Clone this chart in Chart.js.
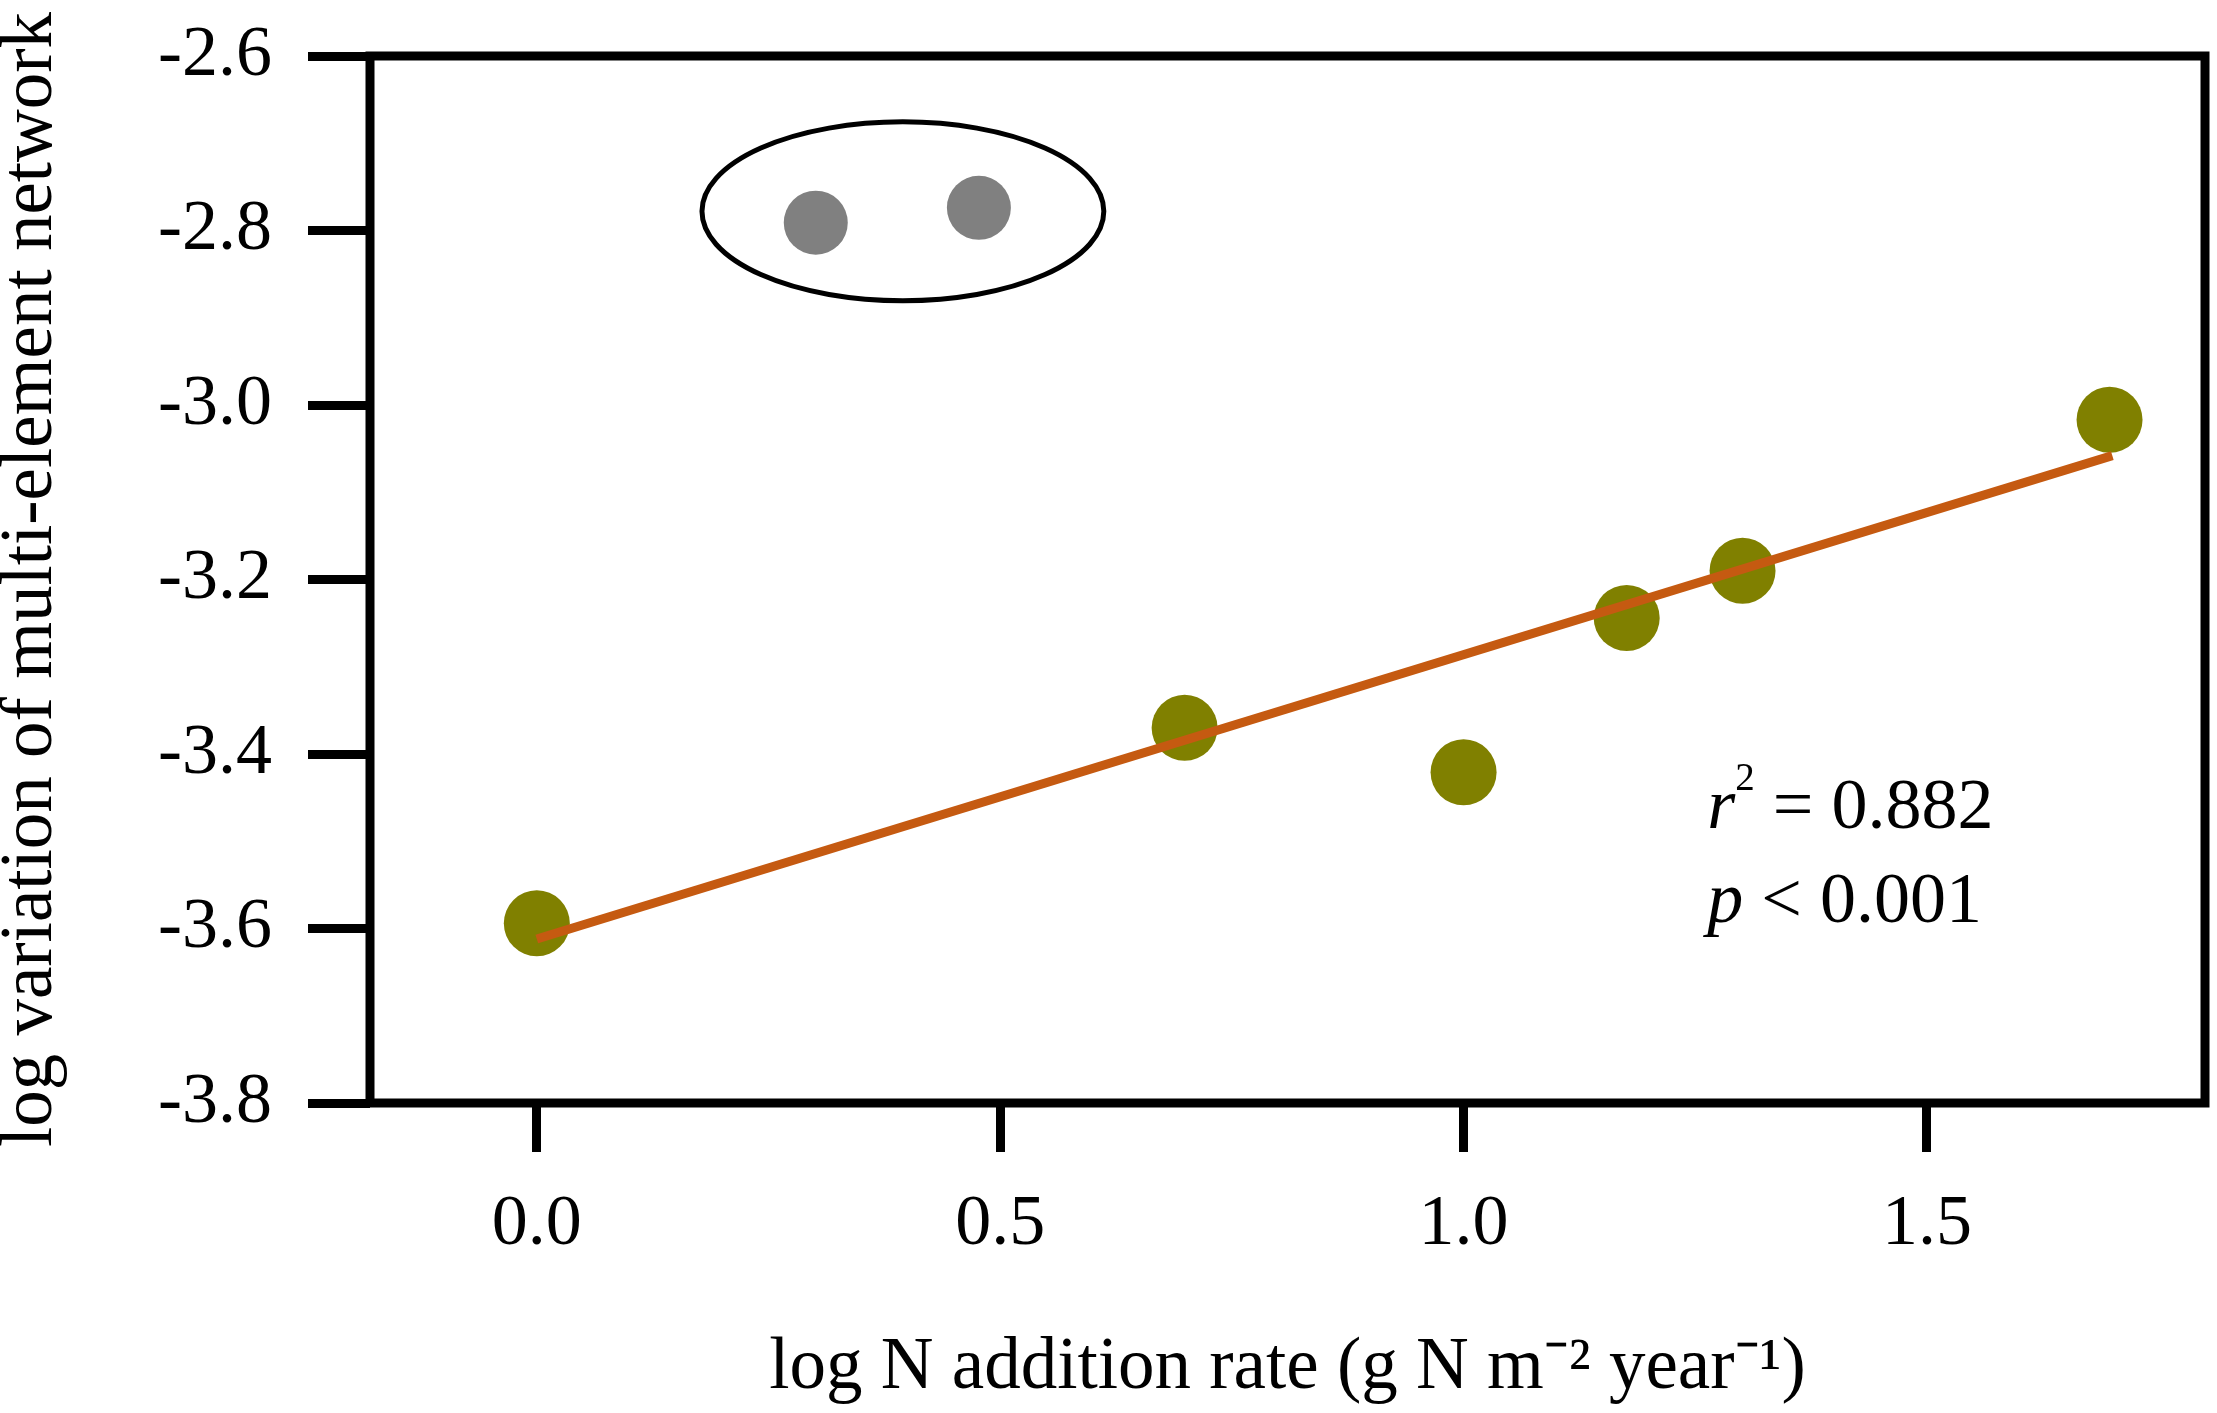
<!DOCTYPE html>
<html>
<head>
<meta charset="utf-8">
<script src="https://cdn.jsdelivr.net/npm/chart.js@4.4.0/dist/chart.umd.min.js"></script>
<style>
  html, body { margin: 0; padding: 0; background: #ffffff; }
  #wrap { width: 2217px; height: 1413px; position: relative; }
</style>
</head>
<body>
<div id="wrap"><canvas id="c"></canvas></div>
<script>
// ---- data ----
const greenX = [0.0, 0.699, 1.0, 1.176, 1.301, 1.697];
const greenY = [-3.594, -3.370, -3.421, -3.244, -3.190, -3.017];
const greyX = [0.301, 0.477];
const greyY = [-2.791, -2.774];
const fitX = [0.0, 1.700];
const fitY = [-3.612, -3.058];
const xTicks = [0.0, 0.5, 1.0, 1.5];
const yTicks = [-3.8, -3.6, -3.4, -3.2, -3.0, -2.8, -2.6];
const xTickLabels = ['0.0', '0.5', '1.0', '1.5'];
const yTickLabels = ['-3.8', '-3.6', '-3.4', '-3.2', '-3.0', '-2.8', '-2.6'];
const xTitle = 'log N addition rate (g N m\u207B\u00B2 year\u207B\u00B9)';
const yTitle = 'log variation of multi-element network';
const statLines = [
  [{t: 'r', it: true}, {t: '2', sup: true}, {t: ' = 0.882'}],
  [{t: 'p', it: true}, {t: ' < 0.001'}]
];

const FONT = '"Liberation Serif", "Times New Roman", serif';

const toPts = (xs, ys) => xs.map((x, i) => ({x: x, y: ys[i]}));

// ellipse annotation (data coordinates) and stats text placement
const ellipseAnno = {cx: 0.395, cy: -2.778, rx: 0.2168, ry: 0.1025, width: 5};
const statAnno = {x: 1.263, y: [-3.485, -3.593], size: 72};

const framePlugin = {
  id: 'frame',
  afterDatasetsDraw(chart) {
    const {ctx, chartArea: a} = chart;
    ctx.save();
    ctx.strokeStyle = '#000';
    ctx.lineWidth = 9;
    ctx.lineJoin = 'miter';
    ctx.strokeRect(a.left, a.top, a.right - a.left, a.bottom - a.top);
    ctx.restore();
  }
};

const annoPlugin = {
  id: 'anno',
  beforeDatasetsDraw(chart) {
    const {ctx, scales: {x, y}} = chart;
    ctx.save();
    // ellipse
    const cx = x.getPixelForValue(ellipseAnno.cx);
    const cy = y.getPixelForValue(ellipseAnno.cy);
    const rx = Math.abs(x.getPixelForValue(ellipseAnno.cx + ellipseAnno.rx) - cx);
    const ry = Math.abs(y.getPixelForValue(ellipseAnno.cy + ellipseAnno.ry) - cy);
    ctx.beginPath();
    ctx.ellipse(cx, cy, rx, ry, 0, 0, Math.PI * 2);
    ctx.lineWidth = ellipseAnno.width;
    ctx.strokeStyle = '#000';
    ctx.stroke();
    // stats text
    ctx.fillStyle = '#000';
    ctx.textBaseline = 'alphabetic';
    ctx.textAlign = 'left';
    const s = statAnno.size;
    statLines.forEach((line, li) => {
      let px = x.getPixelForValue(statAnno.x);
      const base = y.getPixelForValue(statAnno.y[li]);
      line.forEach(seg => {
        const size = seg.sup ? Math.round(s * 0.54) : s;
        ctx.font = (seg.it ? 'italic ' : '') + size + 'px ' + FONT;
        const yy = seg.sup ? base - s * 0.53 : base;
        ctx.fillText(seg.t, px, yy);
        px += ctx.measureText(seg.t).width;
      });
    });
    ctx.restore();
  }
};

new Chart(document.getElementById('c'), {
  data: {
    datasets: [
      {
        type: 'line',
        label: 'fit',
        data: toPts(fitX, fitY),
        borderColor: '#C55A11',
        borderWidth: 9,
        pointRadius: 0,
        fill: false,
        order: 0
      },
      {
        type: 'scatter',
        label: 'N addition',
        data: toPts(greenX, greenY),
        backgroundColor: '#808000',
        borderWidth: 0,
        pointRadius: 33,
        pointHoverRadius: 33,
        order: 1
      },
      {
        type: 'scatter',
        label: 'excluded',
        data: toPts(greyX, greyY),
        backgroundColor: '#808080',
        borderWidth: 0,
        pointRadius: 32,
        pointHoverRadius: 32,
        order: 2
      }
    ]
  },
  options: {
    responsive: true,
    maintainAspectRatio: false,
    devicePixelRatio: 1,
    animation: false,
    layout: { autoPadding: false, padding: { left: 0, top: 56, right: 12, bottom: 0 } },
    plugins: { legend: { display: false }, tooltip: { enabled: false } },
    scales: {
      x: {
        type: 'linear',
        position: 'bottom',
        min: -0.18,
        max: 1.8,
        afterBuildTicks(sc) { sc.ticks = xTicks.map(v => ({value: v})); },
        afterFit(sc) { sc.height = 310; sc.paddingLeft = 0; sc.paddingRight = 0; sc.paddingTop = 0; sc.paddingBottom = 0; },
        grid: {
          drawOnChartArea: false,
          drawTicks: true,
          tickLength: 49,
          tickWidth: 9,
          tickColor: '#000'
        },
        border: { display: false },
        ticks: {
          padding: 30,
          color: '#000',
          font: { family: FONT, size: 72 },
          maxRotation: 0,
          autoSkip: false,
          callback(v) { const i = xTicks.indexOf(v); return i >= 0 ? xTickLabels[i] : ''; }
        },
        title: {
          display: true,
          text: xTitle,
          color: '#000',
          font: { family: FONT, size: 73, lineHeight: 1.2 },
          padding: 0
        }
      },
      y: {
        type: 'linear',
        position: 'left',
        min: -3.8,
        max: -2.6,
        afterBuildTicks(sc) { sc.ticks = yTicks.map(v => ({value: v})); },
        afterFit(sc) { sc.width = 370; sc.paddingLeft = 0; sc.paddingRight = 0; sc.paddingTop = 0; sc.paddingBottom = 0; },
        grid: {
          drawOnChartArea: false,
          drawTicks: true,
          tickLength: 62,
          tickWidth: 9,
          tickColor: '#000'
        },
        border: { display: false },
        ticks: {
          padding: 36,
          color: '#000',
          font: { family: FONT, size: 72 },
          autoSkip: false,
          callback(v) { const i = yTicks.findIndex(t => Math.abs(t - v) < 1e-9); return i >= 0 ? yTickLabels[i] : ''; }
        },
        title: {
          display: true,
          text: yTitle,
          color: '#000',
          font: { family: FONT, size: 73, lineHeight: 0.88 },
          padding: 0
        }
      }
    }
  },
  plugins: [annoPlugin, framePlugin]
});
</script>
</body>
</html>
